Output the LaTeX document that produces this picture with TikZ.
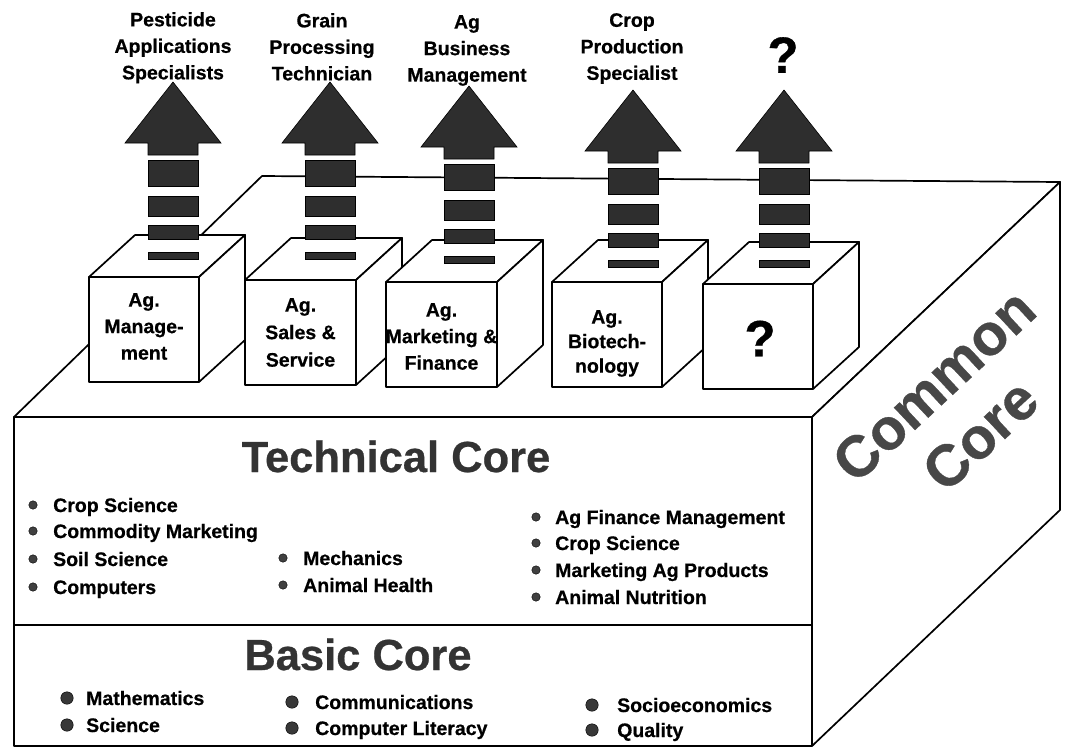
\documentclass[tikz,border=0pt]{standalone}
\usepackage{fontspec}
\setmainfont{Liberation Sans}[BoldFeatures={FakeBold=0.6}]
\tikzset{
  edge/.style={line width=1.7pt, line join=round},
  face/.style={edge, draw=black, fill=white},
  arrowfill/.style={fill=black!82, draw=black, line width=0.6pt},
  lbl/.style={font=\bfseries\fontsize{19.5}{26.5}\selectfont, align=center, inner sep=0pt, anchor=north},
  qmark/.style={font=\bfseries\fontsize{51}{55}\selectfont, inner sep=0pt},
  item/.style={font=\bfseries\fontsize{19.5}{24}\selectfont, anchor=base west, inner sep=0pt},
  tbul/.style={circle, fill=black!75, draw=black, line width=0.4pt, inner sep=0pt, minimum size=8.5pt},
  bbul/.style={circle, fill=black!78, draw=black, line width=0.4pt, inner sep=0pt, minimum size=12.5pt},
  big/.style={font=\bfseries\fontsize{43.5}{50}\selectfont, text=black!80, inner sep=0pt, anchor=base},
}
\newcommand\jobarrow[2]{% #1 centre x, #2 tip y
  \path[arrowfill] (#1,#2) -- ({#1+48},{#2+61}) -- ({#1+25},{#2+61}) -- ({#1+25},{#2+73})
     -- ({#1-25},{#2+73}) -- ({#1-25},{#2+61}) -- ({#1-48},{#2+61}) -- cycle;
  \foreach \a/\b in {78/104,114/134,143/157,170/177}
    \path[arrowfill] ({#1-25},{#2+\a}) rectangle ({#1+25},{#2+\b});
}
\newcommand\agcube[4]{% #1 name, #2 x, #3 y, #4 width
  \begin{scope}[shift={(#2,#3)}]
    \path[face] (0,0) -- (46,-42) -- ({#4+46},-42) -- (#4,0) -- cycle;
    \path[face] (#4,0) -- ({#4+46},-42) -- ({#4+46},63) -- (#4,105) -- cycle;
    \path[face] (0,0) rectangle (#4,105);
    \coordinate (#1) at ({#4/2},0);
  \end{scope}}
\begin{document}
\begin{tikzpicture}[x=1pt,y=-1pt]
\useasboundingbox (0,0) rectangle (1079,750);
% big box
\path[face] (14,417) -- (262,176) -- (1060,182) -- (812,417) -- cycle;
\path[face] (812,417) -- (1060,182) -- (1060,510) -- (812,746) -- cycle;
\path[face] (14,417) rectangle (812,746);
\draw[edge] (14,625) -- (812,625);
% cubes
\agcube{c1}{89}{277}{110}
\agcube{c2}{245}{280}{111}
\agcube{c3}{386}{282}{111}
\agcube{c4}{552}{282}{110}
\agcube{c5}{703}{284}{110}
% arrows
\jobarrow{173}{82}
\jobarrow{330}{82}
\jobarrow{469}{86}
\jobarrow{633}{90}
\jobarrow{784}{90}
% career labels
\node[lbl] (l1) at (173,12) {Pesticide\\Applications\\Specialists};
\node[lbl] (l2) at (322,13) {Grain\\Processing\\Technician};
\node[lbl] (l3) at (467,15) {Ag\\Business\\Management};
\node[lbl] (l4) at (632,13) {Crop\\Production\\Specialist};
\node[qmark, anchor=north] (l5) at (783,37) {?};
% cube labels
\node[lbl] (t1) at (144,293) {Ag.\\Manage-\\ment};
\node[lbl, font=\bfseries\fontsize{19.5}{27.5}\selectfont] (t2) at (300.5,298) {Ag.\\Sales \&\\Service};
\node[lbl, font=\bfseries\fontsize{19.5}{26.5}\selectfont] (t3) at (441.5,303) {Ag.\\Marketing \&\\Finance};
\node[lbl, font=\bfseries\fontsize{19.5}{24.5}\selectfont] (t4) at (607,310) {Ag.\\Biotech-\\nology};
\node[qmark] (t5) at (760,338.5) {?};
% headings
\node[big] (tc) at (396,472) {Technical Core};
\node[big] (bc) at (358,670) {Basic Core};
\node[font=\bfseries\fontsize{58}{68}\selectfont, text=black!72, align=center, rotate=43, inner sep=0pt] (cc) at (957,410) {Common\\Core};
% technical core items
\foreach \t/\y [count=\i] in {Crop Science/512, Commodity Marketing/538, Soil Science/566, Computers/594}{
  \node[tbul] (ta\i) at (33,{\y-7}) {};
  \node[item] (tat\i) at (53,\y) {\t};
}
\foreach \t/\y [count=\i] in {Mechanics/565, Animal Health/592}{
  \node[tbul] (tb\i) at (283,{\y-7}) {};
  \node[item] (tbt\i) at (303,\y) {\t};
}
\foreach \t/\y [count=\i] in {Ag Finance Management/524, Crop Science/550, Marketing Ag Products/577, Animal Nutrition/604}{
  \node[tbul] (tr\i) at (536,{\y-7}) {};
  \node[item] (trt\i) at (555,\y) {\t};
}
% basic core items
\foreach \t/\y [count=\i] in {Mathematics/705, Science/732}{
  \node[bbul] (ba\i) at (67,{\y-7}) {};
  \node[item] (bat\i) at (86,\y) {\t};
}
\foreach \t/\y [count=\i] in {Communications/709, Computer Literacy/735}{
  \node[bbul] (bb\i) at (292,{\y-7}) {};
  \node[item] (bbt\i) at (315,\y) {\t};
}
\foreach \t/\y [count=\i] in {Socioeconomics/712, Quality/737}{
  \node[bbul] (bq\i) at (592,{\y-7}) {};
  \node[item] (bqt\i) at (617,\y) {\t};
}
\end{tikzpicture}
\end{document}
